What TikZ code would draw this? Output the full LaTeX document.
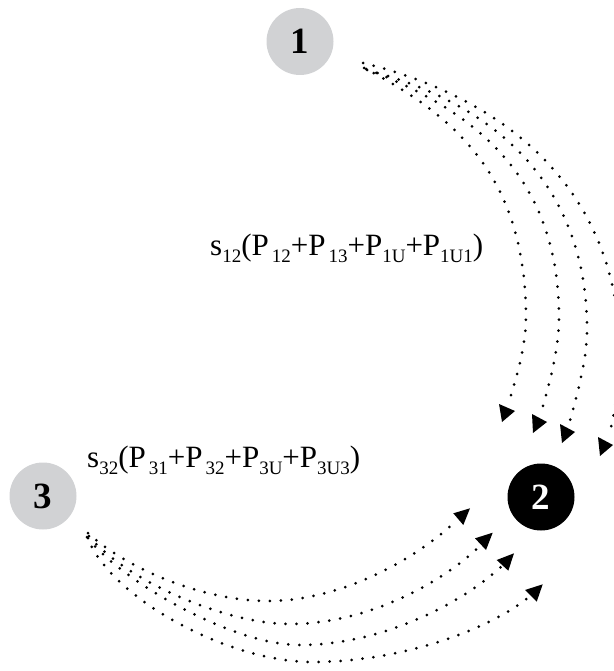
\documentclass[tikz,border=0pt]{standalone}
\usepackage{fontspec}
\setmainfont{Liberation Serif}
\definecolor{nodegray}{RGB}{209,210,212}
\newcommand{\lowsub}[1]{\raisebox{-7pt}{\fontsize{19}{19}\selectfont #1}}
\begin{document}
\begin{tikzpicture}[x=1pt,y=-1pt,
  station/.style={circle, minimum size=67pt, inner sep=0pt,
    font=\fontsize{37}{37}\selectfont\bfseries},
  flow/.style={line width=3pt, dash pattern=on 0pt off 11pt, line cap=round},
  tiphead/.style={fill=black},
  flux/.style={anchor=base west, inner sep=0pt, font=\fontsize{31}{31}\selectfont}]
\useasboundingbox (0,0) rectangle (613,671);

% stations
\node[station, fill=nodegray] (n1) at (300,41.5) {1};
\node[station, fill=black, text=white] (n2) at (541,497) {2};
\node[station, fill=nodegray] (n3) at (43,496) {3};

% flow labels
\node[flux] (f12) at (210,255) {s\lowsub{12}(P\hspace{3pt}\lowsub{12}+P\hspace{3pt}\lowsub{13}+P\lowsub{1U}+P\lowsub{1U1})};
\node[flux] (f32) at (87,467) {s\lowsub{32}(P\hspace{3pt}\lowsub{31}+P\hspace{3pt}\lowsub{32}+P\lowsub{3U}+P\lowsub{3U3})};

% ends of the flows from station 1
\coordinate (a1) at (364,68);  \coordinate (b1) at (509,402);
\coordinate (a2) at (366,69);  \coordinate (b2) at (541,413);
\coordinate (a3) at (367,70);  \coordinate (b3) at (569,424);
\coordinate (a4) at (363,63);  \coordinate (b4) at (609,436);

\draw[flow] (a1) .. controls (460,118) and (525,180) .. (526,316)
                 .. controls (526,346) and (517,375) .. (b1);
\draw[flow] (a2) .. controls (480,112) and (559,181) .. (559,318)
                 .. controls (559,350) and (549,385) .. (b2);
\draw[flow] (a3) .. controls (497,104) and (587,186) .. (587,330)
                 .. controls (587,360) and (577,395) .. (b3);
\draw[flow] (a4) .. controls (513,100) and (620,195) .. (620,357)
                 .. controls (620,385) and (614,415) .. (b4);

\fill[tiphead] (499,404) -- (502,422) -- (515,411) -- cycle;
\fill[tiphead] (532,414) -- (533,433) -- (547,422) -- cycle;
\fill[tiphead] (560,424) -- (562,443) -- (575,432) -- cycle;
\fill[tiphead] (598,437) -- (600,456) -- (613,445) -- cycle;

% ends of the flows from station 3
\coordinate (c1) at (88,533);  \coordinate (d1) at (456,521);
\coordinate (c2) at (89,536);  \coordinate (d2) at (481,545);
\coordinate (c3) at (88,538);  \coordinate (d3) at (502,566);
\coordinate (c4) at (87,537);  \coordinate (d4) at (530,596);

\draw[flow] (c1) .. controls (128,570) and (205,601) .. (268,601)
                 .. controls (340,601) and (415,560) .. (d1);
\draw[flow] (c2) .. controls (125,580) and (225,624) .. (290,624)
                 .. controls (365,624) and (440,585) .. (d2);
\draw[flow] (c3) .. controls (118,578) and (230,645) .. (300,645)
                 .. controls (380,645) and (460,605) .. (d3);
\draw[flow] (c4) .. controls (112,600) and (230,662) .. (312,662)
                 .. controls (400,662) and (490,630) .. (d4);

\fill[tiphead] (453.3,513.3) -- (463.3,525) -- (470,508.3) -- cycle;
\fill[tiphead] (475,538.3) -- (486,550) -- (492.7,532.7) -- cycle;
\fill[tiphead] (496.7,560) -- (508.3,570.7) -- (514,553.3) -- cycle;
\fill[tiphead] (525,590) -- (536.7,601.7) -- (542.7,584.3) -- cycle;
\end{tikzpicture}
\end{document}
